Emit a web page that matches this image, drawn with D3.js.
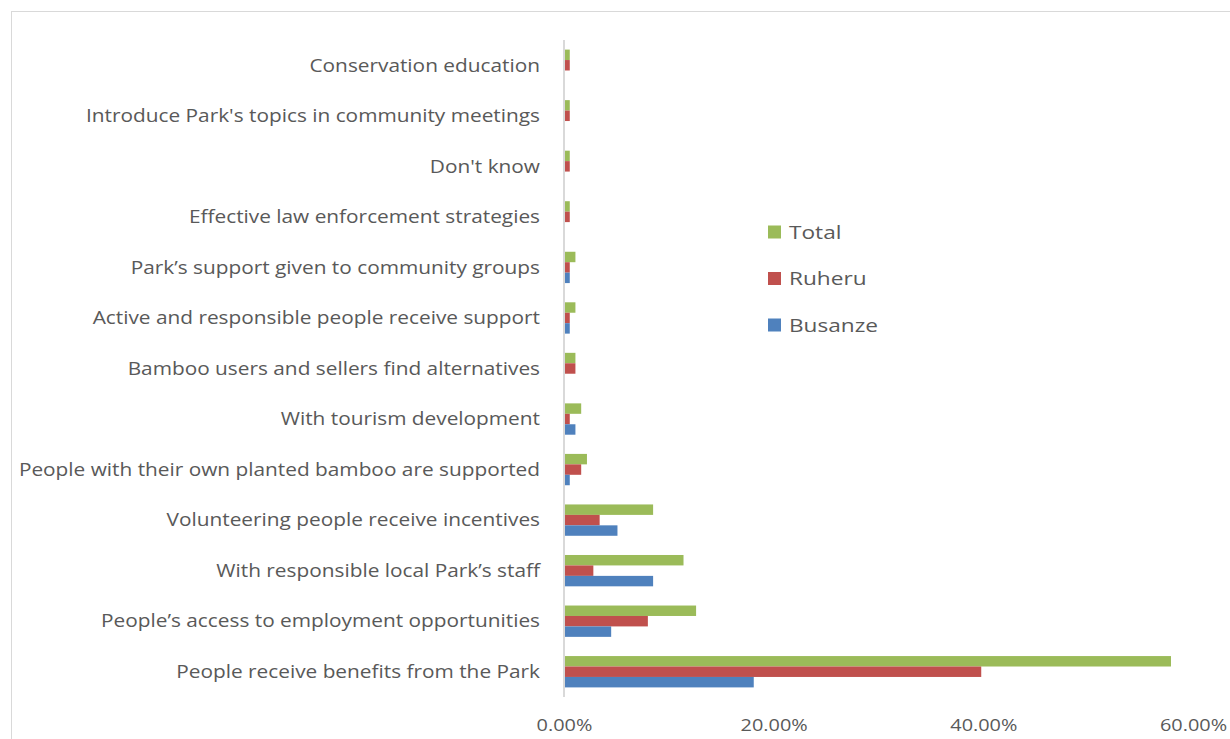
<!DOCTYPE html>
<html>
<head>
<meta charset="utf-8">
<script src="https://cdn.jsdelivr.net/npm/d3@7"></script>
<style>
  html, body { margin: 0; padding: 0; background: #fff; }
  svg { display: block; }
  text { font-family: "Open Sans", sans-serif; fill: #595959; }
</style>
</head>
<body>
<svg id="chart" width="1230" height="739"></svg>
<script>
// Measures, top to bottom as listed on the chart
const categories = [
  "Conservation education",
  "Introduce Park's topics in community meetings",
  "Don't know",
  "Effective law enforcement strategies",
  "Park\u2019s support given to community groups",
  "Active and responsible people receive support",
  "Bamboo users and sellers find alternatives",
  "With tourism development",
  "People with their own planted bamboo are supported",
  "Volunteering people receive incentives",
  "With responsible local Park\u2019s staff",
  "People\u2019s access to employment opportunities",
  "People receive benefits from the Park"
];

// Share of respondents (%), per site and overall
const busanze = [0, 0, 0, 0, 0.55, 0.55, 0, 1.09, 0.55, 5.1, 8.5, 4.5, 18.1];
const ruheru  = [0.55, 0.55, 0.55, 0.55, 0.55, 0.55, 1.09, 0.55, 1.64, 3.4, 2.8, 8.0, 39.8];
const total   = [0.55, 0.55, 0.55, 0.55, 1.09, 1.09, 1.09, 1.64, 2.19, 8.5, 11.4, 12.6, 57.9];

const xTicks = [0, 20, 40, 60];

const series = [
  { name: "Total",   values: total,   color: "#9bbb59" },
  { name: "Ruheru",  values: ruheru,  color: "#c0504d" },
  { name: "Busanze", values: busanze, color: "#4f81bd" }
];

// Text in this chart is set slightly wide
const STRETCH = 1.17;

const svg = d3.select("#chart");

// Chart frame
svg.append("rect")
  .attr("x", 11.5).attr("y", 11.5)
  .attr("width", 1240).attr("height", 760)
  .attr("fill", "none").attr("stroke", "#d9d9d9").attr("stroke-width", 1);

const plot = { left: 564, right: 1193, top: 40, bottom: 697 };

const x = d3.scaleLinear().domain([0, 60]).range([plot.left, plot.right]);
const y = d3.scaleBand().domain(categories).range([plot.top, plot.bottom]).paddingInner(0.38).paddingOuter(0.19);
const ySub = d3.scaleBand().domain(series.map(s => s.name)).range([0, y.bandwidth()]);

// Bars
series.forEach(s => {
  svg.append("g").selectAll("rect")
    .data(categories.map((c, i) => ({ c, v: s.values[i] })))
    .join("rect")
    .attr("x", x(0))
    .attr("y", d => y(d.c) + ySub(s.name))
    .attr("width", d => x(d.v) - x(0))
    .attr("height", ySub.bandwidth())
    .attr("fill", s.color);
});

// Vertical category axis line
svg.append("line")
  .attr("x1", x(0)).attr("x2", x(0))
  .attr("y1", plot.top).attr("y2", plot.bottom)
  .attr("stroke", "#d9d9d9").attr("stroke-width", 2);

// Category labels
const labelGap = 24;
const yAxis = d3.axisLeft(y).tickSize(0).tickPadding(labelGap);
const gy = svg.append("g").attr("transform", `translate(${x(0)},0)`).call(yAxis);
gy.select(".domain").remove();
gy.selectAll("text")
  .attr("x", 0)
  .attr("transform", `translate(${-labelGap},0) scale(${STRETCH},1)`)
  .attr("font-size", 17.8)
  .style("font-family", "'Open Sans', sans-serif")
  .attr("fill", "#595959").attr("dy", "0.35em");

// Percentage axis labels
const xAxis = d3.axisBottom(x).tickValues(xTicks).tickSize(0).tickPadding(0)
  .tickFormat(d => d3.format(".2f")(d) + "%");
const gx = svg.append("g").attr("transform", `translate(0,${plot.bottom + 22})`).call(xAxis);
gx.select(".domain").remove();
gx.selectAll("text")
  .attr("transform", `scale(${STRETCH},1)`)
  .attr("font-size", 17)
  .style("font-family", "'Open Sans', sans-serif").attr("fill", "#595959");

// Legend
const legend = svg.append("g").attr("transform", "translate(768,232)");
series.forEach((s, i) => {
  const g = legend.append("g").attr("transform", `translate(0,${i * 46.5})`);
  g.append("rect").attr("x", 0).attr("y", -6.5).attr("width", 13).attr("height", 13).attr("fill", s.color);
  g.append("text").attr("transform", `translate(21,0) scale(1.21,1)`).attr("dy", "0.35em")
    .attr("font-size", 18.7).text(s.name);
});
</script>
</body>
</html>
